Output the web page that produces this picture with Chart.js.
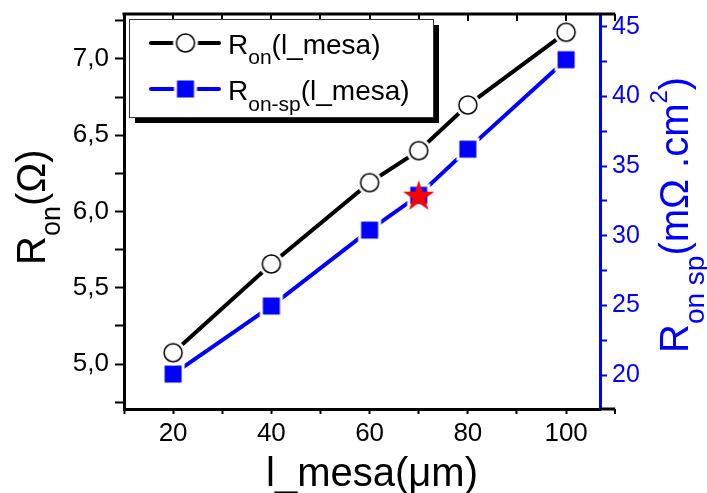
<!DOCTYPE html>
<html>
<head>
<meta charset="utf-8">
<script src="https://cdn.jsdelivr.net/npm/chart.js@4"></script>
<style>
  html, body { margin: 0; padding: 0; background: #fff; }
</style>
</head>
<body>
<canvas id="chart" width="707" height="493"></canvas>
<script>
const lMesa = [20, 40, 60, 70, 80, 100];
const rOn = [5.074, 5.656, 6.189, 6.399, 6.698, 7.175];
const rOnSp = [20.07, 24.95, 30.4, 32.9, 36.21, 42.63];
const starX = [70];
const starY = [32.8];

const FONT = '"Liberation Sans", Arial, sans-serif';
const BLUE = "#0000ff";

// text pieces: [text, size, baseline shift]
const leftTitle = [["R", 40], ["on", 27, 15], ["(\u03A9)", 40]];
const rightTitle = [["R", 40], ["on sp", 28, 16], ["(m\u03A9 .cm", 40], ["2", 24, -21], [")", 40]];
const xTitle = [["l_mesa(\u03BCm)", 40]];
const legendText = [
	[["R", 28], ["on", 21, 10], ["(l_mesa)", 28]],
	[["R", 28], ["on-sp", 21, 11], ["(l_mesa)", 28]]
];

function markerCanvas(size, draw) {
	const c = document.createElement("canvas");
	c.width = size;
	c.height = size;
	draw(c.getContext("2d"), size / 2);
	return c;
}

// white halo gives the small gap between line and marker
const circleImg = markerCanvas(28, (g, m) => {
	g.fillStyle = "#fff";
	g.beginPath(); g.arc(m, m, 12.5, 0, Math.PI * 2); g.fill();
	g.beginPath(); g.arc(m, m, 9, 0, Math.PI * 2); g.fill();
	g.lineWidth = 1.5; g.strokeStyle = "#000"; g.stroke();
});
const squareImg = markerCanvas(26, (g, m) => {
	g.fillStyle = "#fff";
	g.fillRect(m - 11.5, m - 11.5, 23, 23);
	g.fillStyle = BLUE;
	g.fillRect(m - 8.5, m - 8.5, 17, 17);
});
const starImg = markerCanvas(36, (g, m) => {
	g.fillStyle = "#ff0000";
	g.beginPath();
	for (let i = 0; i < 10; i++) {
		const r = i % 2 ? 6.3 : 16.5;
		const a = -Math.PI / 2 + i * Math.PI / 5;
		g.lineTo(m + r * Math.cos(a), m + r * Math.sin(a));
	}
	g.closePath();
	g.fill();
});

function drawRich(ctx, parts, x, y, color) {
	ctx.fillStyle = color;
	ctx.textAlign = "left";
	ctx.textBaseline = "alphabetic";
	for (const p of parts) {
		ctx.font = p[1] + "px " + FONT;
		ctx.fillText(p[0], x, y + (p[2] || 0));
		x += ctx.measureText(p[0]).width;
	}
}

const decor = {
	id: "decor",
	afterDraw(chart) {
		const ctx = chart.ctx;
		const area = chart.chartArea;
		const xs = chart.scales.x;
		const xEnd = xs.getPixelForValue(110);
		ctx.save();

		// top frame line with inward ticks, bottom line running on to 110
		ctx.strokeStyle = "#000";
		ctx.lineWidth = 3;
		ctx.beginPath();
		ctx.moveTo(area.left - 1.5, area.top);
		ctx.lineTo(xEnd, area.top);
		ctx.moveTo(area.right, area.bottom);
		ctx.lineTo(xEnd, area.bottom);
		ctx.stroke();
		ctx.lineWidth = 2;
		ctx.beginPath();
		for (let v = 20; v <= 110; v += 10) {
			const px = Math.round(xs.getPixelForValue(v));
			ctx.moveTo(px, area.top);
			ctx.lineTo(px, area.top + 7);
		}
		ctx.moveTo(Math.round(xEnd), area.bottom);
		ctx.lineTo(Math.round(xEnd), area.bottom + 5);
		ctx.stroke();

		// axis titles
		drawRich(ctx, xTitle, 266, 486, "#000");
		ctx.save();
		ctx.translate(45, 265);
		ctx.rotate(-Math.PI / 2);
		drawRich(ctx, leftTitle, 0, 0, "#000");
		ctx.restore();
		ctx.save();
		ctx.translate(688, 353);
		ctx.rotate(-Math.PI / 2);
		drawRich(ctx, rightTitle, 0, 0, BLUE);
		ctx.restore();

		// legend box with shadow
		const bx = 129, by = 19, bw = 304, bh = 98;
		ctx.fillStyle = "#000";
		ctx.fillRect(bx + 6, by + 6, bw, bh);
		ctx.fillStyle = "#fff";
		ctx.fillRect(bx, by, bw, bh);
		ctx.lineWidth = 1;
		ctx.strokeStyle = "#333";
		ctx.strokeRect(bx + 0.5, by + 0.5, bw, bh);

		[1, 2].forEach((di, row) => {
			const ds = chart.data.datasets[di];
			const cy = 43 + row * 46;
			ctx.strokeStyle = ds.borderColor;
			ctx.lineWidth = 4;
			ctx.lineCap = "round";
			ctx.beginPath();
			ctx.moveTo(151, cy);
			ctx.lineTo(219, cy);
			ctx.stroke();
			const img = ds.pointStyle;
			ctx.drawImage(img, 185.5 - img.width / 2, cy - img.height / 2);
			drawRich(ctx, legendText[row], 228, cy + 10.5, "#000");
		});
		ctx.restore();
	}
};

const tickFont = { family: FONT, size: 26 };

new Chart(document.querySelector("#chart"), {
	type: "line",
	data: {
		datasets: [{
			label: "marker",
			data: starX.map((x, i) => ({ x: x, y: starY[i] })),
			yAxisID: "y2",
			showLine: false,
			pointStyle: starImg,
			order: 0
		}, {
			label: "Ron(l_mesa)",
			data: lMesa.map((x, i) => ({ x: x, y: rOn[i] })),
			yAxisID: "y",
			borderColor: "#000",
			borderWidth: 4,
			pointStyle: circleImg,
			order: 1
		}, {
			label: "Ron-sp(l_mesa)",
			data: lMesa.map((x, i) => ({ x: x, y: rOnSp[i] })),
			yAxisID: "y2",
			borderColor: BLUE,
			borderWidth: 4,
			pointStyle: squareImg,
			order: 2
		}]
	},
	options: {
		responsive: false,
		animation: false,
		devicePixelRatio: 1,
		layout: { padding: { top: 14, left: 0, right: 0, bottom: 0 } },
		plugins: {
			legend: { display: false },
			tooltip: { enabled: false }
		},
		scales: {
			x: {
				type: "linear",
				position: "bottom",
				min: 10,
				max: 106.9,
				border: { color: "#000", width: 3 },
				grid: { drawOnChartArea: false, tickLength: 5, tickWidth: 2, tickColor: "#000" },
				ticks: {
					stepSize: 10,
					autoSkip: false,
					includeBounds: false,
					maxRotation: 0,
					padding: 4,
					color: "#000",
					font: tickFont,
					callback: v => v % 20 === 0 ? String(v) : ""
				},
				afterFit: s => { s.height = 84; s.paddingLeft = 0; s.paddingRight = 0; }
			},
			y: {
				position: "left",
				min: 4.705,
				max: 7.295,
				border: { color: "#000", width: 3 },
				grid: { drawOnChartArea: false, tickLength: 9, tickWidth: 2, tickColor: "#000" },
				ticks: {
					stepSize: 0.25,
					autoSkip: false,
					includeBounds: false,
					padding: 6,
					color: "#000",
					font: tickFont,
					callback: v => Math.abs(v * 2 - Math.round(v * 2)) < 1e-9 ? v.toFixed(1).replace(".", ",") : ""
				},
				afterFit: s => { s.width = 124; s.paddingTop = 0; s.paddingBottom = 0; }
			},
			y2: {
				position: "right",
				min: 17.56,
				max: 45.91,
				border: { color: BLUE, width: 3 },
				grid: { drawOnChartArea: false, tickLength: 7, tickWidth: 2, tickColor: BLUE },
				ticks: {
					stepSize: 2.5,
					autoSkip: false,
					includeBounds: false,
					padding: 5,
					color: BLUE,
					font: { family: FONT, size: 25 },
					callback: v => v % 5 === 0 ? String(v) : ""
				},
				afterFit: s => { s.width = 107; s.paddingTop = 0; s.paddingBottom = 0; }
			}
		}
	},
	plugins: [decor]
});
</script>
</body>
</html>
